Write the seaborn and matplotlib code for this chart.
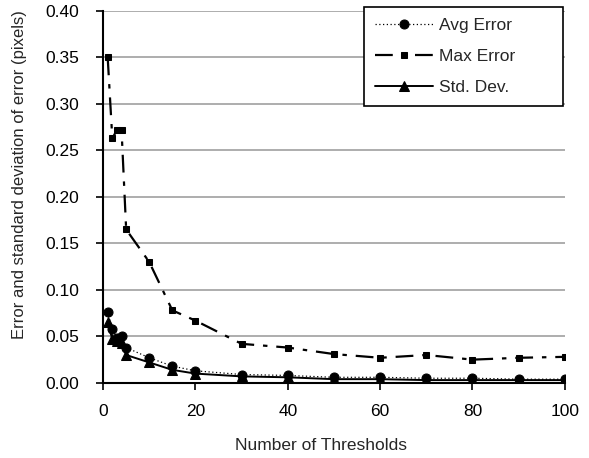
import matplotlib
matplotlib.use("Agg")
import matplotlib.pyplot as plt
import seaborn as sns
import pandas as pd

thresholds = [1, 2, 3, 4, 5, 10, 15, 20, 30, 40, 50, 60, 70, 80, 90, 100]
avg_error = [0.076, 0.058, 0.048, 0.050, 0.038, 0.027, 0.018, 0.013, 0.009, 0.008, 0.006, 0.006, 0.005, 0.005, 0.004, 0.004]
max_error = [0.350, 0.263, 0.272, 0.272, 0.165, 0.130, 0.078, 0.067, 0.042, 0.038, 0.031, 0.027, 0.030, 0.025, 0.027, 0.028]
std_dev = [0.065, 0.047, 0.045, 0.043, 0.030, 0.022, 0.014, 0.010, 0.007, 0.006, 0.004, 0.004, 0.003, 0.003, 0.003, 0.003]
series_names = ["Avg Error", "Max Error", "Std. Dev."]
x_ticks = [0, 20, 40, 60, 80, 100]
y_ticks = [0.00, 0.05, 0.10, 0.15, 0.20, 0.25, 0.30, 0.35, 0.40]

sns.set_style("white")
plt.rcParams['font.family'] = ['Liberation Sans', 'DejaVu Sans']

fig = plt.figure(figsize=(5.89, 4.58), dpi=100)
ax = fig.add_axes([0.175, 0.164, 0.784, 0.812])

df = pd.DataFrame({"x": thresholds, "Avg Error": avg_error, "Max Error": max_error, "Std. Dev.": std_dev})

styles = {
    "Avg Error": dict(marker="o", markersize=6.5, linestyle=(0, (1, 2)), linewidth=0.9),
    "Max Error": dict(marker="s", markersize=5, linestyle=(0, (8, 4, 2, 4)), linewidth=1.6),
    "Std. Dev.": dict(marker="^", markersize=7.5, linestyle="-", linewidth=1.4),
}
for name in series_names:
    sns.lineplot(data=df, x="x", y=name, ax=ax, label=name, color="black",
                 markeredgecolor="black", markerfacecolor="black", **styles[name])

ax.set_xlim(0, 100)
ax.set_ylim(0, 0.40)
ax.set_xticks(x_ticks)
ax.set_yticks(y_ticks)
ax.set_yticklabels([f"{v:.2f}" for v in y_ticks])
ax.yaxis.grid(True, color="#a0a0a0", linewidth=1.2)
ax.set_axisbelow(True)
for s in ["top", "right"]:
    ax.spines[s].set_visible(False)
for s in ["left", "bottom"]:
    ax.spines[s].set_color("black")
    ax.spines[s].set_linewidth(1.5)
ax.tick_params(axis="both", direction="out", length=5, width=1.2, colors="black", labelsize=12.5, bottom=True, left=True)
ax.tick_params(axis="x", pad=10)
ax.tick_params(axis="y", pad=12)
ax.set_xlabel("Number of Thresholds", fontsize=12.5)
ax.set_ylabel("Error and standard deviation of error (pixels)", fontsize=12)
ax.xaxis.set_label_coords(0.473, -0.147)
ax.yaxis.set_label_coords(-0.165, 0.559)

# legend box spans the reference's frame (figure coords), contents left aligned
x0, x1 = 364 / 589, 563 / 589
y_top = 1 - 7 / 458
leg = ax.legend(loc="upper left", bbox_to_anchor=(x0, y_top - 0.3, x1 - x0, 0.3),
                bbox_transform=fig.transFigure, mode="expand",
                frameon=True, fancybox=False,
                edgecolor="black", fontsize=12.5, handlelength=3.3, handletextpad=0.35,
                labelspacing=0.9, borderpad=0.65, borderaxespad=0, framealpha=1)
leg.get_frame().set_linewidth(1.2)

fig.savefig("out.png", dpi=100)
